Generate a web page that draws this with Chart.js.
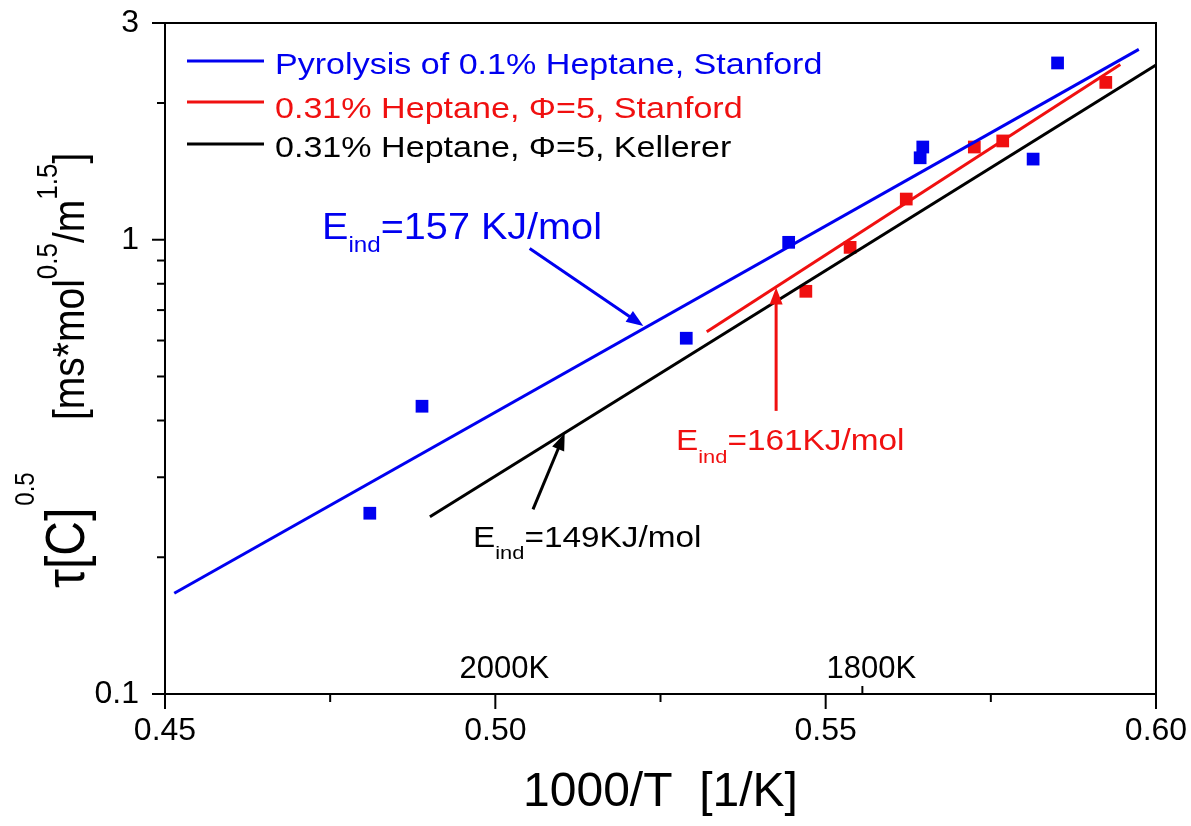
<!DOCTYPE html>
<html>
<head>
<meta charset="utf-8">
<script src="https://cdn.jsdelivr.net/npm/chart.js@4/dist/chart.umd.min.js"></script>
<style>
html,body{margin:0;padding:0;background:#fff;}
#wrap{width:1191px;height:826px;}
</style>
</head>
<body>
<div id="wrap"><canvas id="c" width="1191" height="826"></canvas></div>
<script>
// ---- data ----
const blueX = [0.4810, 0.4889, 0.5289, 0.5444, 0.5643, 0.5647, 0.5814, 0.5851];
const blueY = [0.250, 0.430, 0.607, 0.987, 1.515, 1.600, 1.505, 2.450];
const redX  = [0.5470, 0.5537, 0.5622, 0.5725, 0.5768, 0.5924];
const redY  = [0.770, 0.962, 1.229, 1.600, 1.650, 2.220];
const blueFitX  = [0.4514, 0.5974];
const blueFitY  = [0.1666, 2.625];
const redFitX   = [0.5320, 0.5946];
const redFitY   = [0.627, 2.430];
const blackFitX = [0.4901, 0.6000];
const blackFitY = [0.2457, 2.424];

const legendLabels = [
  'Pyrolysis of 0.1% Heptane, Stanford',
  '0.31% Heptane, \u03A6=5, Stanford',
  '0.31% Heptane, \u03A6=5, Kellerer'
];
const xTickValues = [0.45, 0.475, 0.50, 0.525, 0.55, 0.575, 0.60];
const yMajorTicks = [0.1, 1, 3];
const yMinorTicks = [0.2, 0.3, 0.4, 0.5, 0.6, 0.7, 0.8, 0.9, 2];
const tempMarks = [{x: 0.5, label: '2000K', tick: false}, {x: 1000/1800, label: '1800K', tick: true}];
const xTitle = '1000/T  [1/K]';

// annotation arrows in data space
const arrows = [
  {from: [0.5052, 0.957], to: [0.5224, 0.646], color: '#0000f0'},
  {from: [0.5425, 0.420], to: [0.5425, 0.785], color: '#f01010'},
  {from: [0.5057, 0.255], to: [0.5105, 0.375], color: '#000000'}
];

const BLUE = '#0000f0', RED = '#f01010', BLACK = '#000000';
const FONT = '"Liberation Sans", Arial, Helvetica, sans-serif';

function pts(xs, ys){ return xs.map((x,i)=>({x:x, y:ys[i]})); }

function txt(ctx, str, x, y, size, color, sx){
  ctx.save();
  ctx.font = size + 'px ' + FONT;
  ctx.fillStyle = color;
  ctx.textBaseline = 'alphabetic';
  ctx.textAlign = 'left';
  ctx.translate(x, y);
  ctx.scale(sx, 1);
  ctx.fillText(str, 0, 0);
  const w = ctx.measureText(str).width * sx;
  ctx.restore();
  return w;
}
function rtxt(ctx, str, bx, y, size, color, sx){
  ctx.save();
  ctx.font = size + 'px ' + FONT;
  ctx.fillStyle = color;
  ctx.textBaseline = 'alphabetic';
  ctx.textAlign = 'left';
  ctx.translate(bx, y);
  ctx.rotate(-Math.PI/2);
  ctx.scale(1, sx);
  ctx.fillText(str, 0, 0);
  const w = ctx.measureText(str).width;
  ctx.restore();
  return w;
}
function eLabel(ctx, x, y, big, small, subDrop, rest, color, sx){
  let cx = x;
  cx += txt(ctx, 'E', cx, y, big, color, sx);
  cx += txt(ctx, 'ind', cx, y + subDrop, small, color, sx);
  txt(ctx, rest, cx, y, big, color, sx);
}

const decor = {
  id: 'decor',
  afterDraw(chart){
    const ctx = chart.ctx;
    const a = chart.chartArea;
    const xs = chart.scales.x, ys = chart.scales.y;
    ctx.save();
    // frame
    ctx.strokeStyle = '#000';
    ctx.lineWidth = 2;
    ctx.strokeRect(a.left, a.top, a.right - a.left, a.bottom - a.top);
    // y ticks
    ys.ticks.forEach(t => {
      const p = ys.getPixelForValue(t.value);
      const len = yMajorTicks.includes(t.value) ? 13 : 8;
      ctx.beginPath(); ctx.moveTo(a.left - len, p); ctx.lineTo(a.left, p); ctx.stroke();
    });
    // x ticks
    xs.ticks.forEach(t => {
      const p = xs.getPixelForValue(t.value);
      const major = Math.abs(t.value*20 - Math.round(t.value*20)) < 1e-6;
      const len = major ? 15 : 8;
      ctx.beginPath(); ctx.moveTo(p, a.bottom); ctx.lineTo(p, a.bottom + len); ctx.stroke();
    });
    // temperature marks
    tempMarks.forEach(m => {
      const p = xs.getPixelForValue(m.x);
      if (m.tick){ ctx.beginPath(); ctx.moveTo(p, a.bottom); ctx.lineTo(p, a.bottom - 8); ctx.stroke(); }
      ctx.save();
      ctx.font = '32px ' + FONT;
      const w = ctx.measureText(m.label).width * 0.97;
      ctx.restore();
      txt(ctx, m.label, p + 9 - w/2, a.bottom - 16, 32, BLACK, 0.97);
    });
    // legend
    const leg = [[BLUE, 61, 74], [RED, 102, 118], [BLACK, 144, 157]];
    leg.forEach((l, i) => {
      ctx.strokeStyle = l[0]; ctx.lineWidth = 3;
      ctx.beginPath(); ctx.moveTo(187, l[1]); ctx.lineTo(264, l[1]); ctx.stroke();
      txt(ctx, legendLabels[i], 275, l[2], 29, l[0], 1.175);
    });
    // arrows
    arrows.forEach(ar => {
      const x1 = xs.getPixelForValue(ar.from[0]), y1 = ys.getPixelForValue(ar.from[1]);
      const x2 = xs.getPixelForValue(ar.to[0]),   y2 = ys.getPixelForValue(ar.to[1]);
      const ang = Math.atan2(y2 - y1, x2 - x1);
      const hl = 17, hw = 6.5;
      ctx.strokeStyle = ar.color; ctx.fillStyle = ar.color; ctx.lineWidth = 3;
      ctx.beginPath(); ctx.moveTo(x1, y1);
      ctx.lineTo(x2 - Math.cos(ang)*hl*0.8, y2 - Math.sin(ang)*hl*0.8); ctx.stroke();
      ctx.beginPath();
      ctx.moveTo(x2, y2);
      ctx.lineTo(x2 - Math.cos(ang)*hl - Math.sin(ang)*hw, y2 - Math.sin(ang)*hl + Math.cos(ang)*hw);
      ctx.lineTo(x2 - Math.cos(ang)*hl + Math.sin(ang)*hw, y2 - Math.sin(ang)*hl - Math.cos(ang)*hw);
      ctx.closePath(); ctx.fill();
    });
    // E_ind labels
    eLabel(ctx, 322, 239, 36, 22, 13, '=157 KJ/mol', BLUE, 1.1);
    eLabel(ctx, 676, 450, 29, 19, 13, '=161KJ/mol', RED, 1.15);
    eLabel(ctx, 473, 547, 29, 19, 12, '=149KJ/mol', BLACK, 1.15);
    // y title (rotated)
    let y = 588;
    y -= rtxt(ctx, '\u03C4[C]', 84, y, 48, BLACK, 1.15);
    rtxt(ctx, '0.5', 34, y - 2, 24, BLACK, 1.15);
    y = 420;
    y -= rtxt(ctx, '[ms*mol', 84, y, 39, BLACK, 1.15);
    y -= rtxt(ctx, '0.5', 57, y, 26, BLACK, 1.1);
    y -= rtxt(ctx, '/m', 84, y, 39, BLACK, 1.15);
    y -= rtxt(ctx, '1.5', 57, y, 26, BLACK, 1.1);
    rtxt(ctx, ']', 84, y, 39, BLACK, 1.15);
    ctx.restore();
  }
};

new Chart(document.getElementById('c'), {
  type: 'scatter',
  data: {
    datasets: [
      {label: 'blue fit', type: 'line', data: pts(blueFitX, blueFitY), borderColor: BLUE, borderWidth: 3, pointRadius: 0, fill: false},
      {label: 'red fit', type: 'line', data: pts(redFitX, redFitY), borderColor: RED, borderWidth: 3, pointRadius: 0, fill: false},
      {label: 'black fit', type: 'line', data: pts(blackFitX, blackFitY), borderColor: BLACK, borderWidth: 3, pointRadius: 0, fill: false},
      {label: 'blue data', data: pts(blueX, blueY), pointStyle: 'rect', pointRadius: 9, backgroundColor: BLUE, borderWidth: 0},
      {label: 'red data', data: pts(redX, redY), pointStyle: 'rect', pointRadius: 9, backgroundColor: RED, borderWidth: 0}
    ]
  },
  options: {
    responsive: false,
    animation: false,
    events: [],
    layout: {padding: {left: 0, right: 35, top: 23, bottom: 0}},
    plugins: {legend: {display: false}, tooltip: {enabled: false}},
    scales: {
      x: {
        type: 'linear', min: 0.45, max: 0.60,
        afterFit(s){ s.height = 132; s.paddingLeft = 0; s.paddingRight = 0; },
        afterBuildTicks(s){ s.ticks = xTickValues.map(v => ({value: v})); },
        grid: {display: false, drawTicks: false},
        border: {display: false},
        ticks: {
          autoSkip: false, maxRotation: 0, color: '#000', padding: 18,
          font: {family: FONT, size: 32},
          callback(v){ return Math.abs(v*20 - Math.round(v*20)) < 1e-6 ? v.toFixed(2) : ''; }
        },
        title: {display: true, text: xTitle, color: '#000', font: {family: FONT, size: 48}, padding: {top: 0, bottom: 4}}
      },
      y: {
        type: 'logarithmic', min: 0.1, max: 3,
        afterFit(s){ s.width = 165; s.paddingTop = 0; s.paddingBottom = 0; },
        afterBuildTicks(s){ s.ticks = yMajorTicks.concat(yMinorTicks).sort((a,b)=>a-b).map(v => ({value: v, major: yMajorTicks.includes(v)})); },
        grid: {display: false, drawTicks: false},
        border: {display: false},
        ticks: {
          autoSkip: false, color: '#000', padding: 26,
          font: {family: FONT, size: 32},
          callback(v){ return yMajorTicks.includes(v) ? String(v) : ''; }
        }
      }
    }
  },
  plugins: [decor]
});
</script>
</body>
</html>
